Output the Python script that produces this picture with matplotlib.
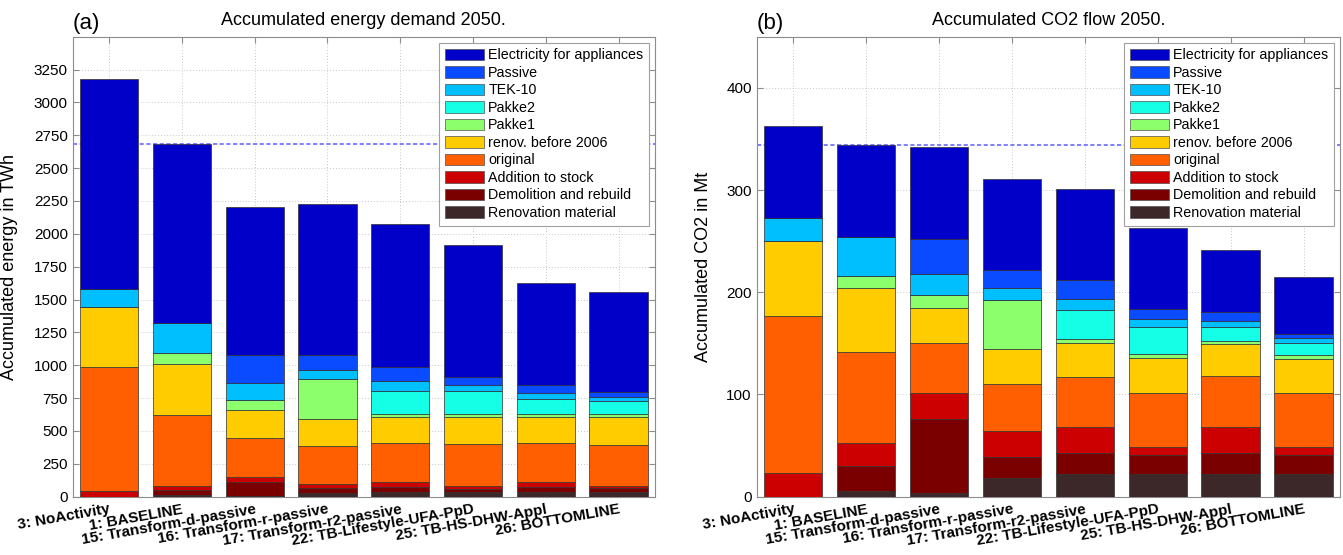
import numpy as np
import matplotlib
matplotlib.use('Agg')
import matplotlib.pyplot as plt
from matplotlib.patches import Patch

plt.rcParams['font.family'] = ['Liberation Sans', 'DejaVu Sans']

scenarios = ['3: NoActivity', '1: BASELINE', '15: Transform-d-passive',
             '16: Transform-r-passive', '17: Transform-r2-passive',
             '22: TB-Lifestyle-UFA-PpD', '25: TB-HS-DHW-Appl', '26: BOTTOMLINE']

# stacking order: bottom -> top
components = ['Renovation material', 'Demolition and rebuild', 'Addition to stock',
              'original', 'renov. before 2006', 'Pakke1', 'Pakke2', 'TEK-10',
              'Passive', 'Electricity for appliances']
colors = ['#3c2828', '#7a0000', '#cc0000', '#ff5f00', '#ffcc00',
          '#8cff6c', '#14ffe6', '#00bfff', '#0a4bff', '#0000c8']

# (a) Accumulated energy demand, TWh (segment heights)
energy_renovation_material = [0, 15, 5, 25, 38, 33, 38, 38]
energy_demolition = [0, 35, 105, 40, 33, 23, 33, 25]
energy_addition = [40, 30, 40, 35, 38, 25, 41, 18]
energy_original = [950, 545, 300, 285, 297, 317, 299, 312]
energy_renov_before_2006 = [450, 385, 210, 210, 198, 206, 193, 211]
energy_pakke1 = [0, 80, 75, 300, 25, 25, 25, 25]
energy_pakke2 = [0, 0, 0, 0, 178, 178, 112, 102]
energy_tek10 = [140, 230, 130, 70, 76, 43, 46, 30]
energy_passive = [0, 0, 210, 110, 102, 59, 63, 33]
energy_electricity = [1595, 1364, 1130, 1150, 1092, 1003, 775, 760]

# (b) Accumulated CO2 flow, Mt (segment heights)
co2_renovation_material = [0, 6, 4, 18.3, 22.2, 22.2, 22.2, 22.2]
co2_demolition = [0, 24, 71.8, 20.7, 20.8, 19, 20.8, 19]
co2_addition = [23, 22.6, 25.2, 25, 25.6, 7.8, 25.6, 7.8]
co2_original = [153.5, 89.4, 49, 46.5, 48.4, 52.3, 49, 52.3]
co2_renov_before_2006 = [73.5, 62, 35, 34.3, 33, 34.7, 32.1, 33.7]
co2_pakke1 = [0, 12, 12, 47.2, 4.6, 4, 2.6, 4]
co2_pakke2 = [0, 0, 0, 0, 27.8, 26, 13.7, 11.3]
co2_tek10 = [23, 38, 21, 12.6, 11.4, 8.2, 5.9, 5.3]
co2_passive = [0, 0, 34, 17.4, 18, 9.1, 8.8, 3.9]
co2_electricity = [90, 90, 90.5, 89, 89.2, 79.1, 60.3, 55.5]

energy_series = [energy_renovation_material, energy_demolition, energy_addition,
                 energy_original, energy_renov_before_2006, energy_pakke1,
                 energy_pakke2, energy_tek10, energy_passive, energy_electricity]
co2_series = [co2_renovation_material, co2_demolition, co2_addition,
              co2_original, co2_renov_before_2006, co2_pakke1,
              co2_pakke2, co2_tek10, co2_passive, co2_electricity]

energy_yticks = list(range(0, 3251, 250))
co2_yticks = [0, 100, 200, 300, 400]

W, H = 1343, 555
fig = plt.figure(figsize=(W / 100, H / 100), dpi=100)

def px_axes(x0, x1, y0, y1):
    return fig.add_axes([x0 / W, 1 - y1 / H, (x1 - x0) / W, (y1 - y0) / H])

ax1 = px_axes(72.7, 655, 36.7, 496.7)
ax2 = px_axes(756.7, 1340, 36.7, 496.7)

grid_col = '#c8c8c8'
spine_col = '#8c8c8c'

def draw(ax, series, ylim, yticks, ylabel, title, tag, ylab_x):
    x = np.arange(1, len(scenarios) + 1)
    bottom = np.zeros(len(scenarios))
    for vals, col in zip(series, colors):
        v = np.array(vals, dtype=float)
        ax.bar(x, v, width=0.8, bottom=bottom, color=col, edgecolor='#303030',
               linewidth=0.5, zorder=3)
        bottom += v
    base_total = bottom[1]
    ax.axhline(base_total, color='#6a6aff', linestyle=(0, (2.5, 1.5)), linewidth=1.2, zorder=2)
    ax.set_xlim(0.5, len(scenarios) + 0.5)
    ax.set_ylim(*ylim)
    ax.set_yticks(yticks)
    ax.set_yticklabels([str(t) for t in yticks], fontsize=11)
    ax.set_xticks(x)
    ax.set_xticklabels(scenarios, rotation=10, ha='right', rotation_mode='anchor',
                       fontsize=11, fontweight='bold')
    ax.tick_params(axis='both', direction='in', length=4, color=spine_col,
                   top=True, right=True, pad=3.5)
    ax.tick_params(axis='x', pad=4)
    ax.grid(True, linestyle=(0, (1, 2)), color=grid_col, linewidth=0.7, zorder=0)
    ax.set_axisbelow(True)
    for s in ax.spines.values():
        s.set_color(spine_col)
        s.set_linewidth(0.8)
    ax.set_ylabel(ylabel, fontsize=13)
    ax.yaxis.set_label_coords(ylab_x, 0.5)
    ax.text(0.5, 1.0254, title, transform=ax.transAxes, ha='center', va='baseline',
            fontsize=13)
    ax.text(0.0, 1.017, tag, transform=ax.transAxes, ha='left', va='baseline',
            fontsize=16)
    handles = [Patch(facecolor=c, edgecolor='#505050', linewidth=0.5, label=l)
               for c, l in zip(colors, components)][::-1]
    leg = ax.legend(handles=handles, loc='upper right', fontsize=10.3,
                    frameon=True, fancybox=False, framealpha=1, edgecolor='#a0a0a0',
                    borderaxespad=0.42, handlelength=2.75, handleheight=0.9,
                    handletextpad=0.3, labelspacing=0.245, borderpad=0.4)
    leg.get_frame().set_linewidth(0.8)
    leg.set_zorder(5)

draw(ax1, energy_series, (0, 3500), energy_yticks, 'Accumulated energy in TWh',
     'Accumulated energy demand 2050.', '(a)', -0.094)
draw(ax2, co2_series, (0, 450), co2_yticks, 'Accumulated CO2 in Mt',
     'Accumulated CO2 flow 2050.', '(b)', -0.0766)

fig.savefig('out.png', dpi=100)
